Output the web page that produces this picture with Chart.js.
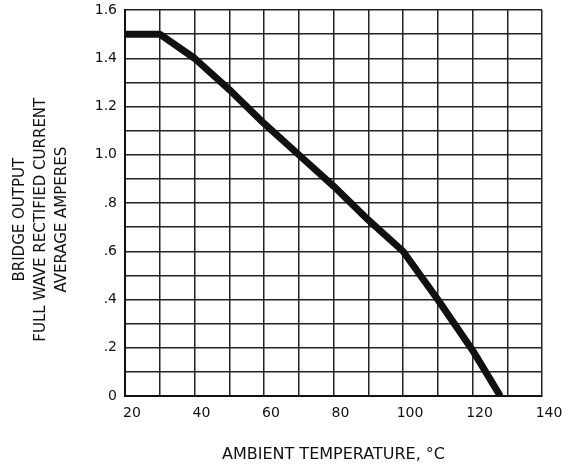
<!DOCTYPE html>
<html>
<head>
<meta charset="utf-8">
<script src="https://cdn.jsdelivr.net/npm/chart.js@4"></script>
<style>
  html, body { margin: 0; padding: 0; background: #ffffff; }
  #wrap { width: 575px; height: 467px; }
</style>
</head>
<body>
<div id="wrap"><canvas id="c" width="575" height="467"></canvas></div>
<script>
// Ambient temperature (°C) and average bridge output current (A)
const temps   = [20, 30, 40, 50, 60, 70, 80, 90, 100, 110, 120, 128];
const current = [1.5, 1.5, 1.4, 1.27, 1.13, 1.0, 0.87, 0.73, 0.6, 0.4, 0.19, 0];

const xTickLabels = ['20', '40', '60', '80', '100', '120', '140'];
const yTickLabels = ['0', '.2', '.4', '.6', '.8', '1.0', '1.2', '1.4', '1.6'];

const xTitle = 'AMBIENT TEMPERATURE, °C';
const yTitle = ['BRIDGE OUTPUT', 'FULL WAVE RECTIFIED CURRENT', 'AVERAGE AMPERES'];

const FONT = 'DejaVu Sans, Liberation Sans, sans-serif';
const pad = '       ';

new Chart(document.getElementById('c'), {
  type: 'line',
  data: {
    datasets: [{
      data: temps.map((t, i) => ({ x: t, y: current[i] })),
      borderColor: '#111111',
      borderWidth: 7,
      pointRadius: 0,
      tension: 0,
      fill: false,
      borderJoinStyle: 'round',
      borderCapStyle: 'butt'
    }]
  },
  options: {
    responsive: false,
    animation: false,
    layout: { padding: { top: 10, right: 33, bottom: 0, left: 0 } },
    plugins: { legend: { display: false }, tooltip: { enabled: false } },
    scales: {
      x: {
        type: 'linear',
        min: 20, max: 140,
        afterFit: s => { s.height = 71; s.paddingLeft = 0; s.paddingRight = 0; },
        border: { display: true, color: '#111', width: 2 },
        grid: { color: '#222', lineWidth: 1.5, drawTicks: false },
        ticks: {
          stepSize: 10,
          autoSkip: false,
          maxRotation: 0,
          padding: 9,
          labelOffset: 7,
          color: '#111',
          font: { family: FONT, size: 14 },
          callback: v => {
            const i = xTickLabels.indexOf(String(Math.round(v)));
            return i >= 0 ? xTickLabels[i] : '';
          }
        },
        title: {
          display: true,
          text: xTitle,
          color: '#111',
          font: { family: FONT, size: 16 },
          padding: { top: 0, bottom: 3 }
        }
      },
      y: {
        min: 0, max: 1.6,
        afterFit: s => { s.width = 125; s.paddingTop = 0; s.paddingBottom = 0; },
        border: { display: true, color: '#111', width: 2 },
        grid: { color: '#222', lineWidth: 1.5, drawTicks: false },
        ticks: {
          stepSize: 0.1,
          autoSkip: false,
          padding: 8,
          color: '#111',
          font: { family: FONT, size: 14 },
          callback: v => {
            const k = Math.round(v * 10);
            return k % 2 === 0 ? yTickLabels[k / 2] : '';
          }
        },
        title: {
          display: true,
          text: yTitle.map(s => s + pad),
          color: '#111',
          font: { family: FONT, size: 15, lineHeight: 1.4 },
          padding: { top: 10, bottom: 0 }
        }
      }
    }
  }
});
</script>
</body>
</html>
